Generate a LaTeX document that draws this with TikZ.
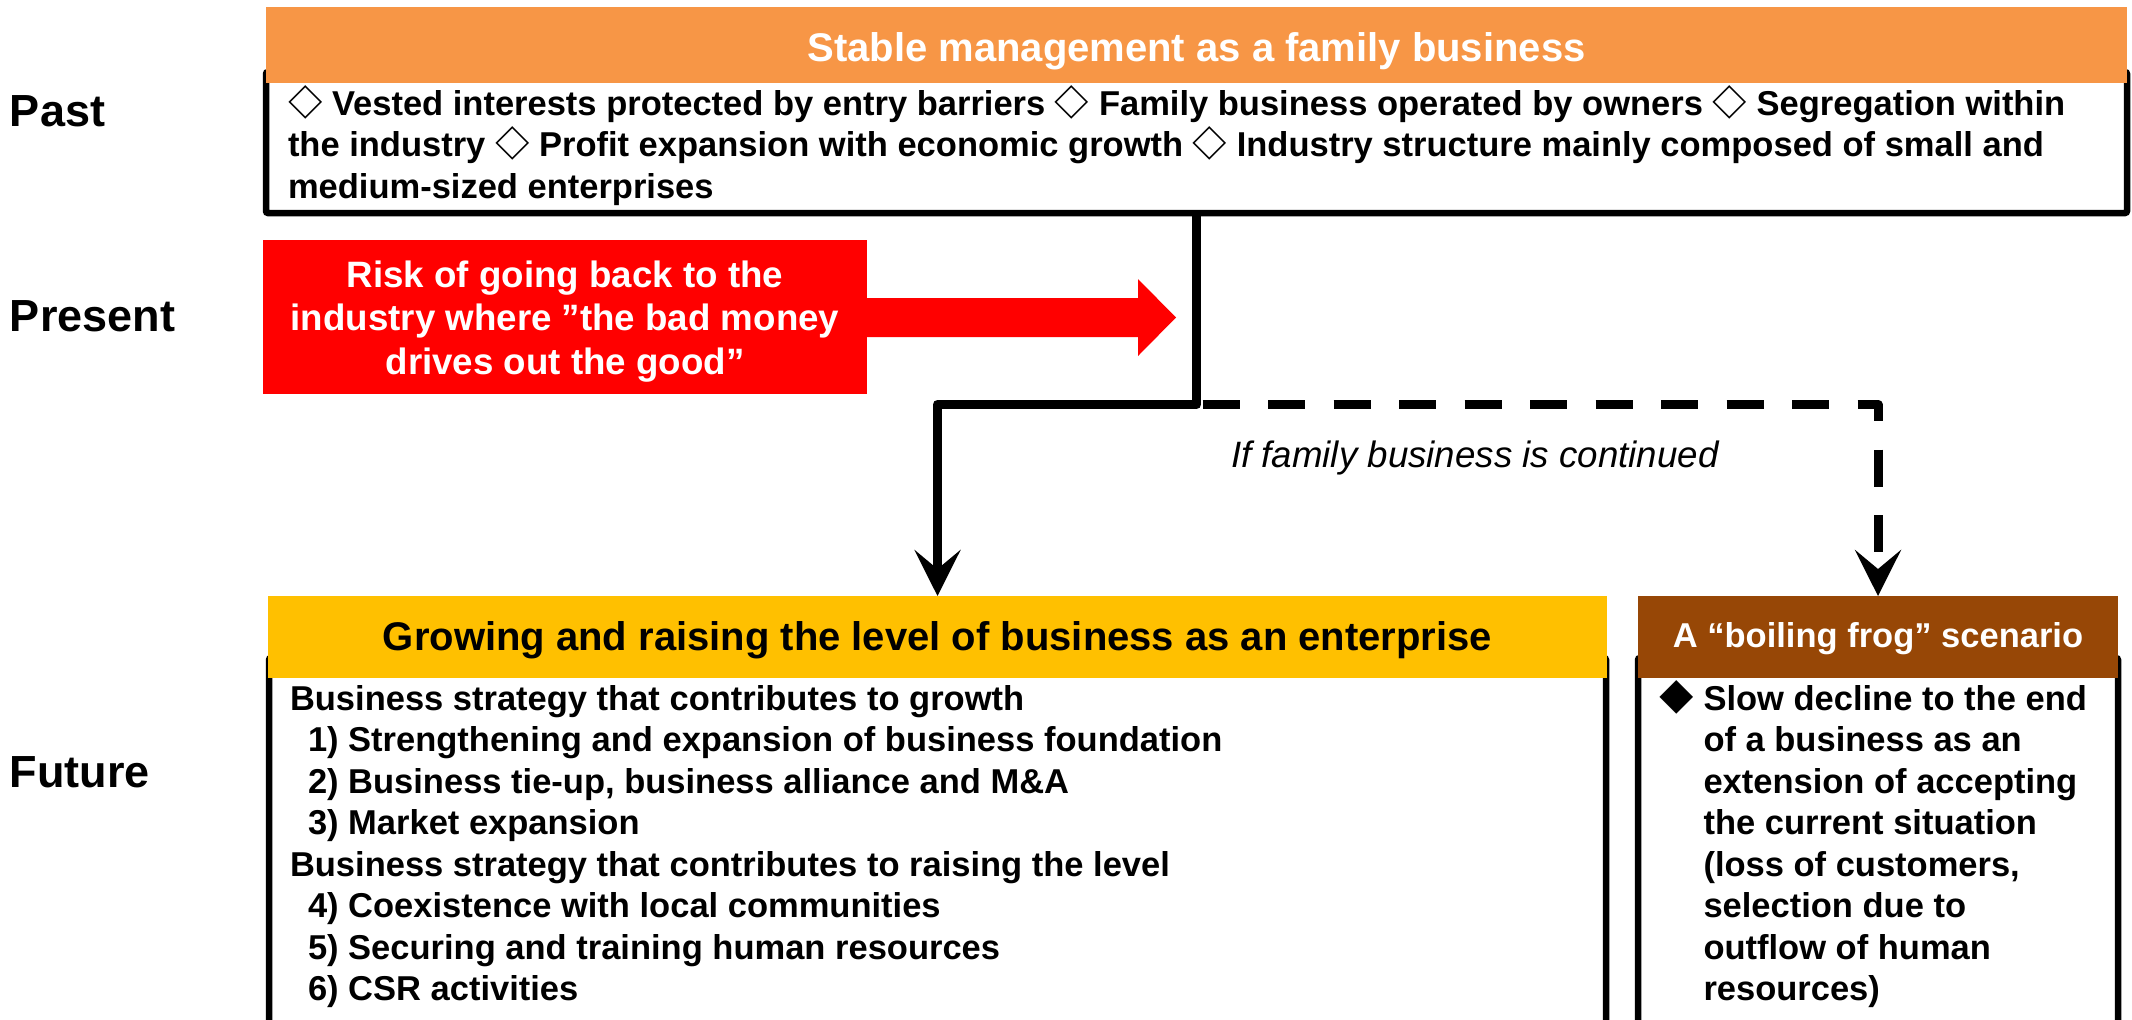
\documentclass[tikz,border=0pt]{standalone}
\usepackage{fontspec}
\setmainfont{Liberation Sans}
\newfontfamily\cjkfont{Noto Sans CJK JP}
\usetikzlibrary{arrows.meta}
\definecolor{hdrorange}{HTML}{F79646}
\definecolor{hdryellow}{HTML}{FFC000}
\definecolor{hdrbrown}{HTML}{974706}
\definecolor{riskred}{HTML}{FF0000}
\newcommand\wdia{{\cjkfont ◇}}
\newcommand\bdia{{\cjkfont ◆}}
\begin{document}
\begin{tikzpicture}[x=0.5pt,y=-0.5pt,
  every node/.style={inner sep=0pt,outer sep=0pt},
  hdr/.style={minimum height=41pt,font=\fontsize{20pt}{24pt}\selectfont\bfseries},
  boxframe/.style={draw=black,line width=3.25pt,rounded corners=1pt},
  bodytxt/.style={anchor=base west,align=left,font=\fontsize{17.25pt}{20.75pt}\selectfont\bfseries},
  era/.style={anchor=base west,font=\fontsize{22.5pt}{27pt}\selectfont\bfseries},
  conn/.style={line width=4.5pt,line join=round},
  tip/.style={-{Stealth[length=23pt,width=23pt,inset=9.5pt]}}
]
\useasboundingbox (0,0) rectangle (2132,1019);
\clip (0,0) rectangle (2132,1019);
\fill[white] (0,0) rectangle (2132,1019);

% era labels
\node[era] (past) at (10,126.7) {Past};
\node[era] (present) at (10,331.7) {Present};
\node[era] (future) at (10,787) {Future};

% top box
\node[boxframe,minimum width=930.5pt,minimum height=70.5pt] (bodyA) at (1196.5,142.5) {};
\node[hdr,fill=hdrorange,text=white,minimum width=930.5pt,minimum height=38pt,text height=18pt,text depth=2pt] (hdrA) at (1196.5,45) {Stable management as a family business};
% base anchor of a multi-line node = baseline of its last line
\node[bodytxt] (txtA) at (288,198) {\wdia\ Vested interests protected by entry barriers \wdia\ Family business operated by owners \wdia\ Segregation within\\
the industry \wdia\ Profit expansion with economic growth \wdia\ Industry structure mainly composed of small and\\
medium-sized enterprises};

% red risk box and arrow
\node[fill=riskred,minimum width=302pt,minimum height=77pt] (risk) at (565,317) {};
\fill[riskred] (866,298) -- (1138,298) -- (1138,279) -- (1176,317.5) -- (1138,356) -- (1138,337) -- (866,337) -- cycle;
\node[anchor=base,align=center,text=white,font=\fontsize{18.35pt}{21.85pt}\selectfont\bfseries] (risktxt) at (565,374.4) {Risk of going back to the\\industry where ”the bad money\\drives out the good”};

% lower boxes
\node[boxframe,minimum width=668.5pt,minimum height=201pt] (bodyB) at (937.5,859) {};
\node[boxframe,minimum width=240pt,minimum height=201pt] (bodyC) at (1878,859) {};
\node[hdr,fill=hdryellow,text=black,minimum width=669.5pt,text height=15pt,text depth=2pt] (hdrB) at (937.5,637) {Growing and raising the level of business as an enterprise};
\node[hdr,fill=hdrbrown,text=white,minimum width=240pt,text height=12pt,text depth=2pt,font=\fontsize{17.25pt}{20pt}\selectfont\bfseries] (hdrC) at (1878,637) {A “boiling frog” scenario};

\node[bodytxt] (txtB) at (290,1000.5) {Business strategy that contributes to growth\\
\hspace*{9pt}1) Strengthening and expansion of business foundation\\
\hspace*{9pt}2) Business tie-up, business alliance and M\&A\\
\hspace*{9pt}3) Market expansion\\
Business strategy that contributes to raising the level\\
\hspace*{9pt}4) Coexistence with local communities\\
\hspace*{9pt}5) Securing and training human resources\\
\hspace*{9pt}6) CSR activities};

\node[bodytxt] (txtC) at (1703.5,1000.5) {\llap{\bdia\ }Slow decline to the end\\
of a business as an\\
extension of accepting\\
the current situation\\
(loss of customers,\\
selection due to\\
outflow of human\\
resources)};

% connectors
\coordinate (junc) at (1196.5,404.5);
\draw[conn,tip] (bodyA.south) -- (junc) -| (hdrB.north);
\draw[conn,tip,dash pattern=on 18.65pt off 14.1pt] ([xshift=3pt]junc) -| (hdrC.north);
\node[anchor=base west,font=\fontsize{18.35pt}{22pt}\selectfont\itshape] (cond) at (1231,467) {If family business is continued};
\end{tikzpicture}
\end{document}
